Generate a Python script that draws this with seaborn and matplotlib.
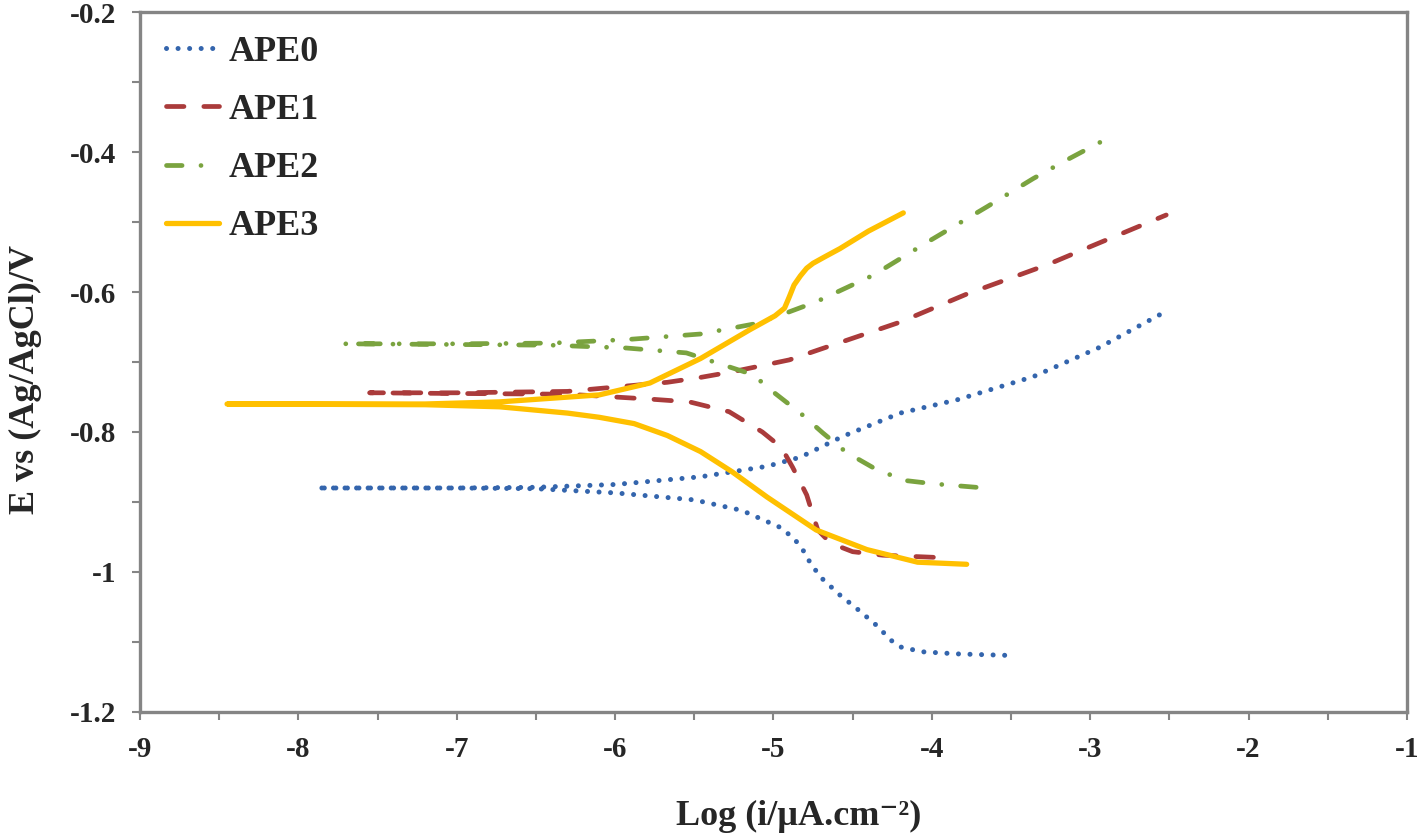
import matplotlib
matplotlib.use("Agg")
import matplotlib.pyplot as plt
import numpy as np
import pandas as pd
import seaborn as sns
from matplotlib.ticker import MultipleLocator, FuncFormatter

# polarisation curves: cathodic branch (right -> left), anodic branch (left -> right)
ape0_cat_x = [-3.54, -3.84, -4.06, -4.20, -4.25, -4.36, -4.47, -4.58, -4.69, -4.76, -4.81, -4.87, -4.96, -5.20, -5.50, -6.00, -6.50, -7.00, -7.88]
ape0_cat_e = [-1.119, -1.117, -1.114, -1.107, -1.099, -1.074, -1.053, -1.033, -1.010, -0.990, -0.970, -0.952, -0.936, -0.912, -0.897, -0.887, -0.881, -0.880, -0.880]
ape0_an_x = [-7.88, -7.00, -6.50, -6.00, -5.46, -5.04, -4.83, -4.56, -4.20, -3.84, -3.36, -2.94, -2.50]
ape0_an_e = [-0.880, -0.880, -0.879, -0.875, -0.864, -0.849, -0.836, -0.806, -0.773, -0.754, -0.721, -0.679, -0.625]

ape1_cat_x = [-3.99, -4.31, -4.50, -4.58, -4.66, -4.72, -4.75, -4.79, -4.83, -4.88, -4.95, -5.07, -5.28, -5.53, -5.78, -6.30, -7.00, -7.55]
ape1_cat_e = [-0.979, -0.976, -0.971, -0.964, -0.954, -0.940, -0.919, -0.890, -0.872, -0.850, -0.822, -0.800, -0.771, -0.757, -0.753, -0.746, -0.745, -0.744]
ape1_an_x = [-7.55, -7.00, -6.30, -5.67, -5.46, -5.26, -4.90, -4.72, -4.20, -3.78, -3.27, -3.05, -2.52]
ape1_an_e = [-0.744, -0.744, -0.742, -0.729, -0.722, -0.714, -0.697, -0.683, -0.643, -0.603, -0.561, -0.540, -0.490]

ape2_cat_x = [-3.72, -3.99, -4.18, -4.37, -4.54, -4.69, -4.83, -5.00, -5.13, -5.55, -5.93, -6.40, -7.00, -7.72]
ape2_cat_e = [-0.879, -0.874, -0.869, -0.851, -0.829, -0.801, -0.773, -0.743, -0.718, -0.687, -0.680, -0.676, -0.675, -0.674]
ape2_an_x = [-7.72, -7.00, -6.40, -5.93, -5.46, -5.13, -4.92, -4.73, -4.37, -4.03, -3.65, -3.36, -3.17, -2.92]
ape2_an_e = [-0.674, -0.674, -0.673, -0.668, -0.660, -0.646, -0.630, -0.614, -0.576, -0.529, -0.478, -0.438, -0.414, -0.384]

ape3_cat_x = [-3.78, -4.09, -4.41, -4.73, -5.04, -5.26, -5.46, -5.67, -5.88, -6.10, -6.30, -6.73, -7.20, -8.45]
ape3_cat_e = [-0.989, -0.986, -0.968, -0.940, -0.893, -0.857, -0.828, -0.805, -0.788, -0.779, -0.773, -0.764, -0.761, -0.760]
ape3_an_x = [-8.45, -7.20, -6.73, -6.10, -5.78, -5.46, -5.15, -4.99, -4.93, -4.90, -4.87, -4.83, -4.79, -4.75, -4.67, -4.58, -4.40, -4.18]
ape3_an_e = [-0.760, -0.760, -0.757, -0.747, -0.730, -0.695, -0.654, -0.634, -0.623, -0.607, -0.590, -0.577, -0.566, -0.559, -0.549, -0.538, -0.513, -0.487]

labels = ["APE0", "APE1", "APE2", "APE3"]
colors = ["#3465AD", "#AA3B3B", "#7AA33F", "#FFC000"]

curves = [
    (ape0_cat_x + ape0_an_x, ape0_cat_e + ape0_an_e),
    (ape1_cat_x + ape1_an_x, ape1_cat_e + ape1_an_e),
    (ape2_cat_x + ape2_an_x, ape2_cat_e + ape2_an_e),
    (ape3_cat_x + ape3_an_x, ape3_cat_e + ape3_an_e),
]

# line looks: dotted, dashed, dash-dot, solid
styles = [
    dict(lw=3.6, dashes=(0.01, 2.3), dash_capstyle="round"),
    dict(lw=3.4, dashes=(3.7, 4.2), dash_capstyle="round"),
    dict(lw=3.4, dashes=(3.3, 4.0, 0.01, 4.0), dash_capstyle="round"),
    dict(lw=3.8, solid_capstyle="round"),
]

sns.set_style("white")
plt.rcParams["font.family"] = ["Liberation Serif", "DejaVu Serif"]
plt.rcParams["font.weight"] = "bold"

fig = plt.figure(figsize=(14.18, 8.34), dpi=100)
ax = fig.add_axes([0.0987, 0.1463, 0.8935, 0.8393])

for lab, col, (xs, es), st in zip(labels, colors, curves, styles):
    df = pd.DataFrame({"logi": xs, "E": es})
    sns.lineplot(data=df, x="logi", y="E", sort=False, estimator=None,
                 color=col, label=lab, ax=ax, **st)

ax.set_xlim(-9, -1)
ax.set_ylim(-1.2, -0.2)
ax.xaxis.set_major_locator(MultipleLocator(1))
ax.xaxis.set_minor_locator(MultipleLocator(0.5))
ax.yaxis.set_major_locator(MultipleLocator(0.2))
ax.yaxis.set_minor_locator(MultipleLocator(0.1))
fmt = FuncFormatter(lambda v, p: "%g" % round(v, 2))
ax.xaxis.set_major_formatter(fmt)
ax.yaxis.set_major_formatter(fmt)

for s in ax.spines.values():
    s.set_color("#858585")
    s.set_linewidth(2.4)
ax.tick_params(which="both", direction="out", length=6, width=1.5, color="#858585",
               bottom=True, left=True, top=False, right=False)
ax.tick_params(which="major", labelsize=21, pad=11)
for t in ax.get_xticklabels() + ax.get_yticklabels():
    t.set_fontweight("bold")

ax.set_xlabel("Log (i/µA.cm⁻²)", fontsize=26, fontweight="bold")
ax.xaxis.set_label_coords(0.52, -0.125)
ax.set_ylabel("E vs (Ag/AgCl)/V", fontsize=26, fontweight="bold")
ax.yaxis.set_label_coords(-0.077, 0.475)

leg = ax.legend(loc="upper left", frameon=False, fontsize=26, handlelength=1.45,
                handletextpad=0.28, labelspacing=0.69, borderaxespad=0.0,
                bbox_to_anchor=(0.0095, 0.987))
for t in leg.get_texts():
    t.set_fontweight("bold")

fig.savefig("out.png", dpi=100)
